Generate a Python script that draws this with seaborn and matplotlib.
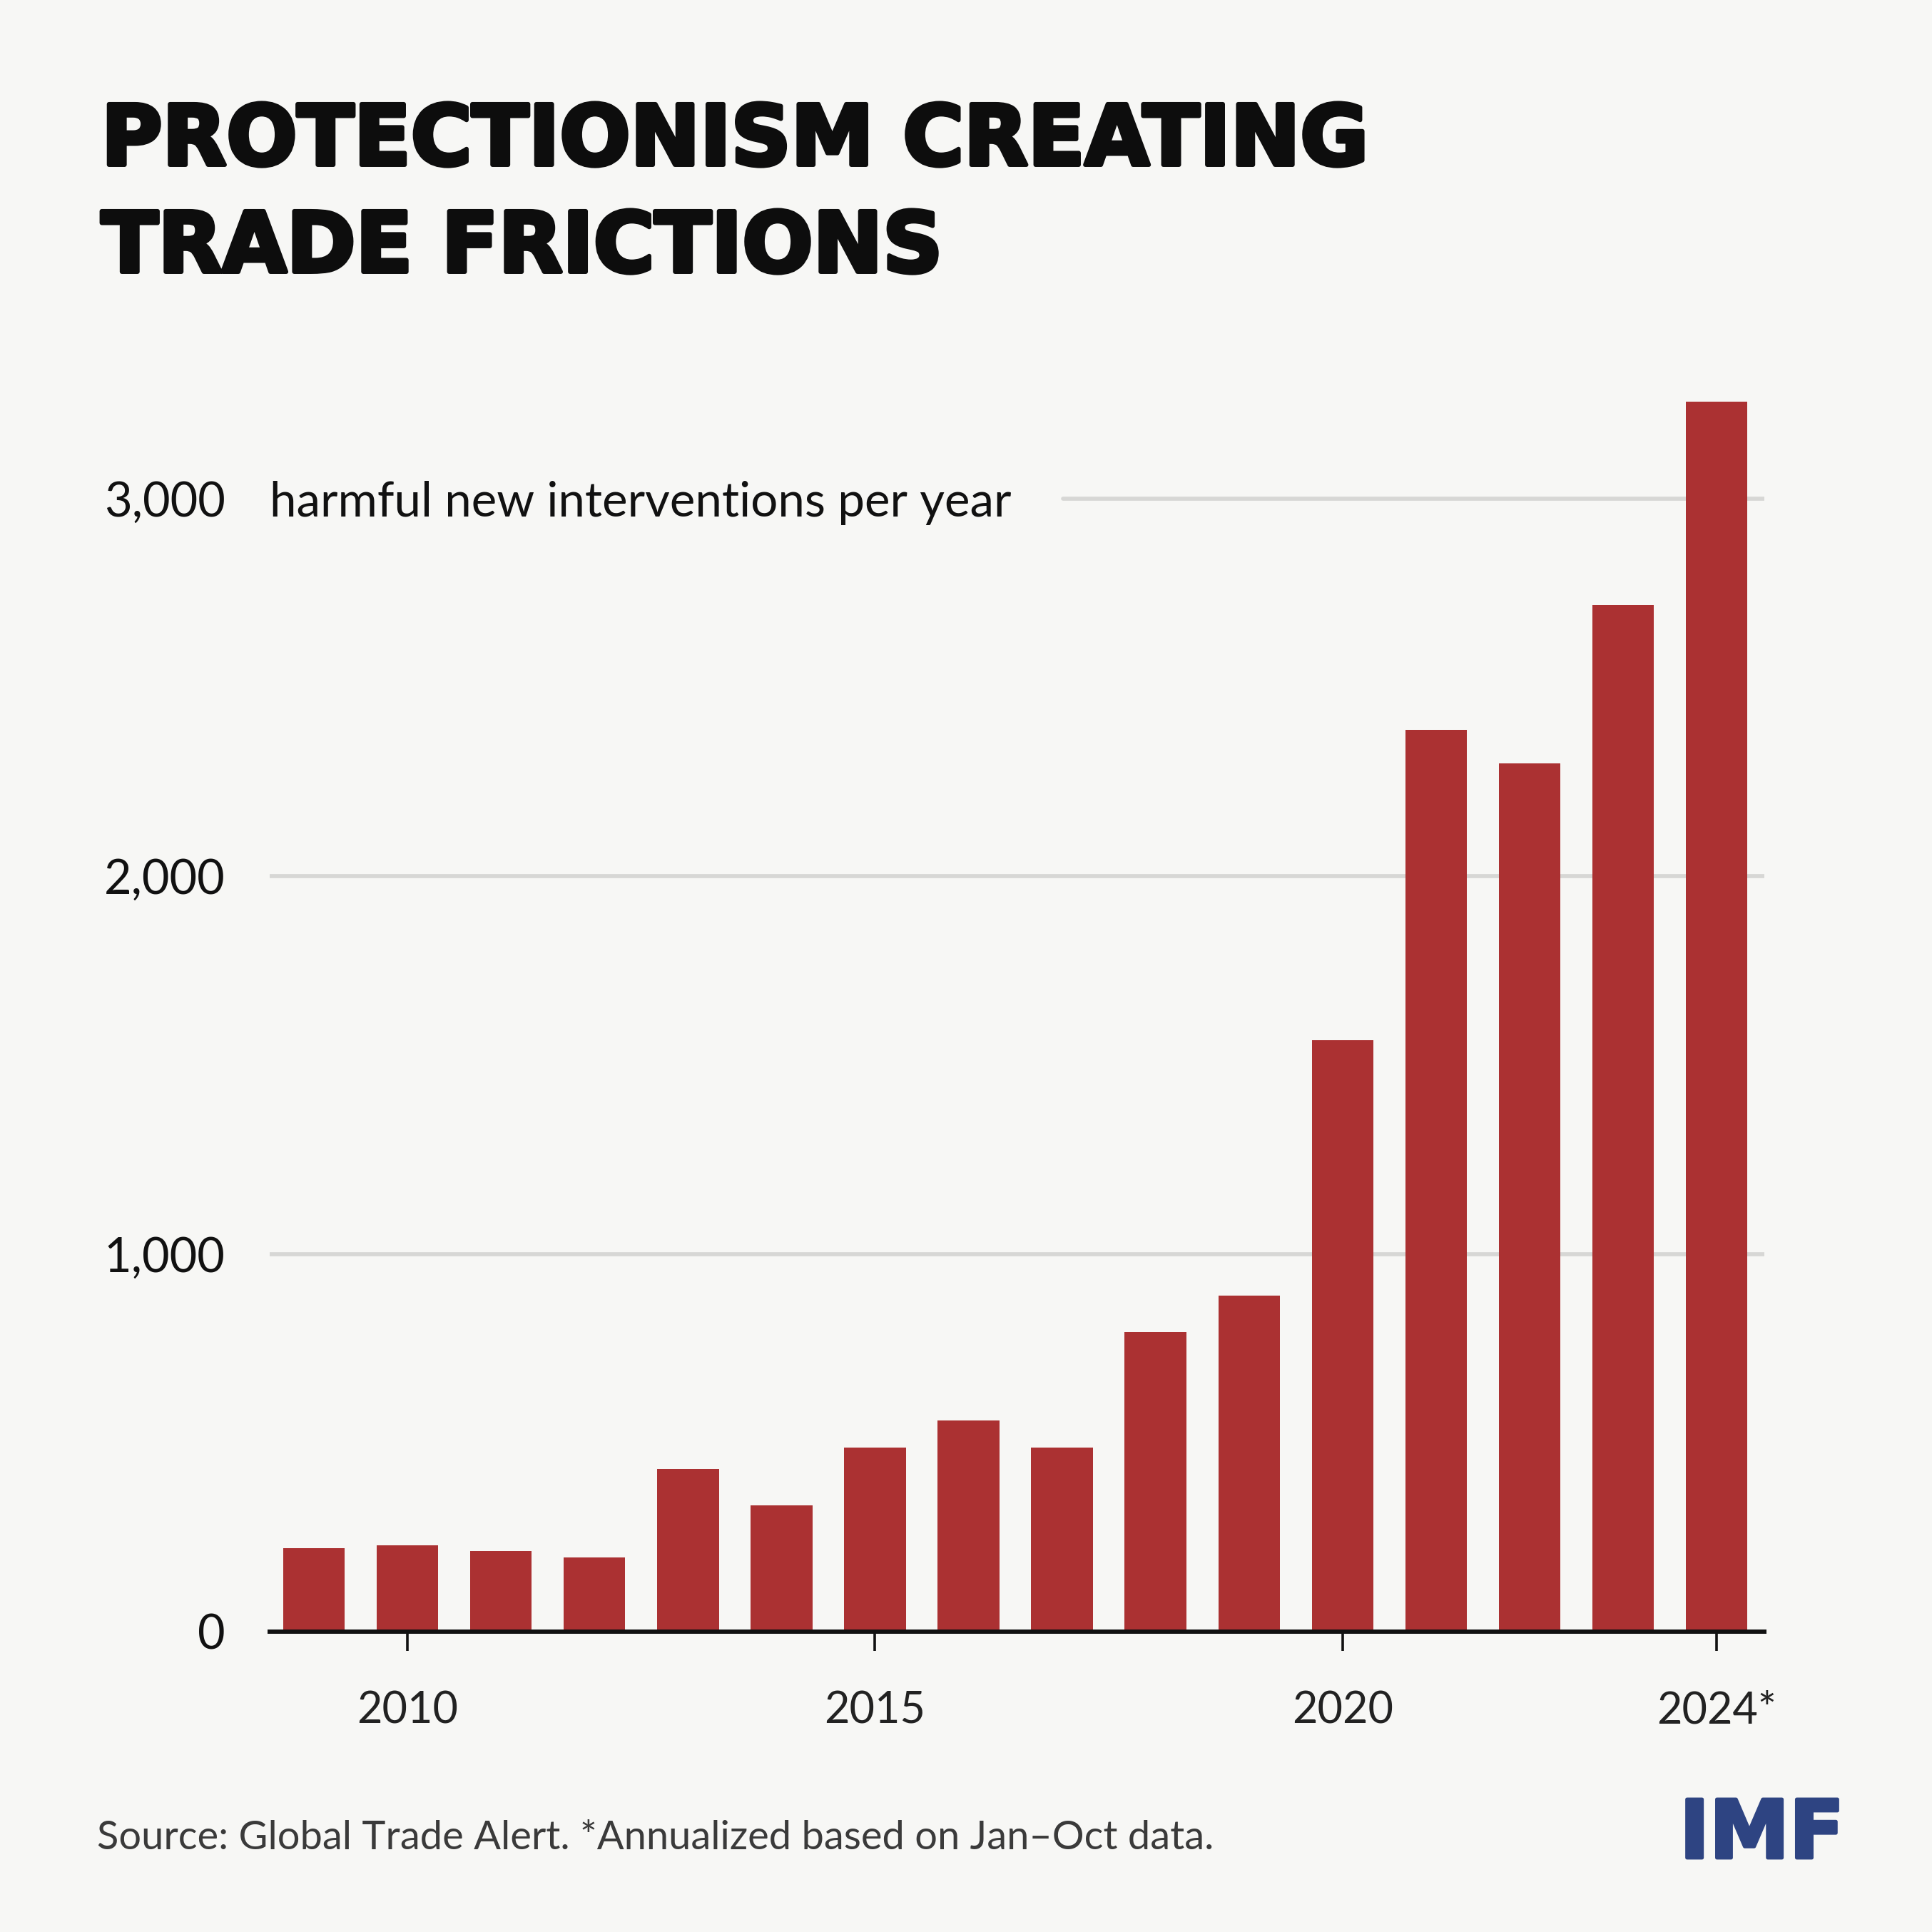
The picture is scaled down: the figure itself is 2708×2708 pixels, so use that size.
import matplotlib
matplotlib.use("Agg")
import matplotlib.pyplot as plt
import matplotlib.patheffects as pe
import seaborn as sns
import pandas as pd

# data
years = [str(y) for y in range(2009, 2025)]
interventions = [221, 229, 213, 196, 430, 334, 487, 559, 487, 793, 890,
                 1566, 2388, 2298, 2718, 3257]
tick_years = ["2010", "2015", "2020", "2024"]
tick_labels = ["2010", "2015", "2020", "2024*"]
y_ticks = [0, 1000, 2000, 3000]
y_labels = ["0", "1,000", "2,000", "3,000"]

BG = "#f7f7f5"
RED = "#ab3132"
INK = "#111111"
TITLE = "#0d0d0d"
NAVY = "#2e4482"


def main():
    sns.set_theme(style="white")
    plt.rcParams["font.family"] = ["Lato", "DejaVu Sans"]

    df = pd.DataFrame({"year": years, "value": interventions})

    W = H = 2708
    fig = plt.figure(figsize=(W / 100, H / 100), dpi=100, facecolor=BG)
    ax = fig.add_axes([378 / W, 1 - 2287 / H, (2473 - 378) / W, (2287 - 540) / H])
    ax.set_facecolor(BG)

    sns.barplot(data=df, x="year", y="value", color=RED, saturation=1,
                width=0.66, linewidth=0, ax=ax, zorder=3)

    ax.set_ylim(0, 3300)
    ax.set_xlim(-0.473, len(years) - 1 + 0.51)

    # gridlines (top one starts after the unit label)
    for yv in y_ticks[1:]:
        xmin = 0.531 if yv == 3000 else 0
        ax.axhline(yv, xmin=xmin, xmax=1, color="#d7d7d5", lw=4.1, zorder=1)

    ax.set_yticks(y_ticks)
    ax.set_yticklabels(y_labels)
    ax.set_xticks([years.index(t) for t in tick_years])
    ax.set_xticklabels(tick_labels)
    ax.set_xlabel("")
    ax.set_ylabel("")

    ax.tick_params(axis="y", length=0, pad=45, labelsize=48, labelcolor=INK)
    ax.tick_params(axis="x", length=19.5, width=2.6, color=INK, pad=40,
                   labelsize=44, labelcolor="#222222", direction="out", bottom=True)

    for s in ["left", "right", "top"]:
        ax.spines[s].set_visible(False)
    ax.spines["bottom"].set_color(INK)
    ax.spines["bottom"].set_linewidth(4.3)
    ax.spines["bottom"].set_zorder(5)

    ax.text(0, 3000, "harmful new interventions per year", transform=ax.get_yaxis_transform(),
            ha="left", va="center_baseline", fontsize=48.5, color=INK)

    # title: heavy face, thickened with a stroke of the same colour
    heavy = ["DejaVu Sans"]
    fx_title = [pe.withStroke(linewidth=4.3, foreground=TITLE)]
    fig.text(142 / W, 1 - 231 / H, "PROTECTIONISM CREATING", fontsize=84,
             family=heavy, fontweight="bold", color=TITLE, ha="left", va="baseline",
             path_effects=fx_title)
    fig.text(142 / W, 1 - 381 / H, "TRADE FRICTIONS", fontsize=84,
             family=heavy, fontweight="bold", color=TITLE, ha="left", va="baseline",
             path_effects=fx_title)

    # footer
    fig.text(136 / W, 1 - 2592 / H,
             "Source: Global Trade Alert. *Annualized based on Jan\u2013Oct data.",
             fontsize=40.3, color="#3a3a3a", ha="left", va="baseline")
    fig.text(2585 / W, 1 - 2604 / H, "IMF", fontsize=81, family=heavy, fontweight="bold",
             color=NAVY, ha="right", va="baseline",
             path_effects=[pe.withStroke(linewidth=3.5, foreground=NAVY)])

    fig.savefig("out.png", dpi=100, facecolor=BG)


if __name__ == "__main__":
    main()
